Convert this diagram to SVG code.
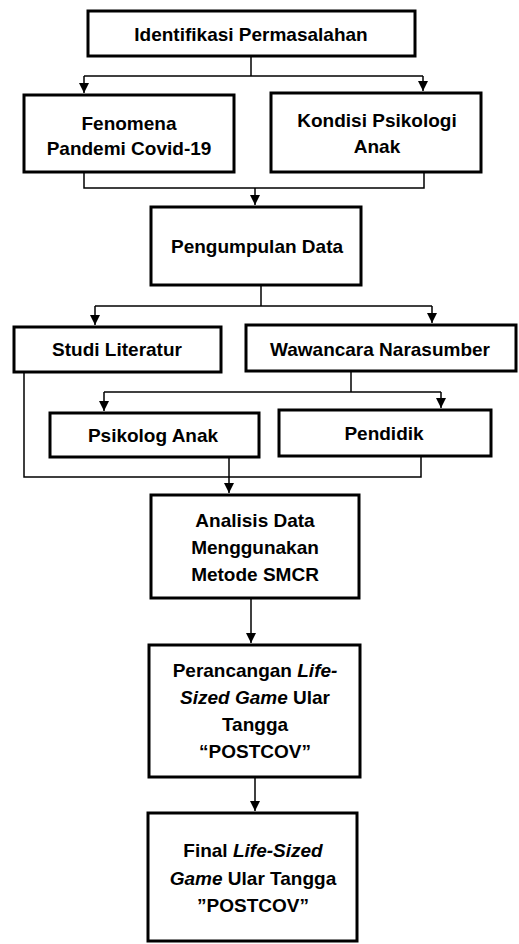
<svg xmlns="http://www.w3.org/2000/svg" width="519" height="944" viewBox="0 0 519 944">
<style>
.box{fill:#fff;stroke:#000;stroke-width:3}
.c{fill:none;stroke:#000;stroke-width:1.5}
text{font-family:"Liberation Sans",Arial,sans-serif;font-weight:bold;font-size:19px;fill:#000;text-anchor:middle}
.i{font-style:italic}
</style>
<defs>
<marker id="ah" markerUnits="userSpaceOnUse" markerWidth="10" markerHeight="10" viewBox="0 0 10 10" refX="10" refY="5" orient="auto">
<path d="M0,0 L10,5 L0,10 Z" fill="#000"/>
</marker>
</defs>
<rect width="519" height="944" fill="#fff"/>
<g id="connectors">
<polyline class="c" points="251,57 251,76"/>
<polyline class="c" points="84,76 423,76"/>
<line class="c" x1="84" y1="76" x2="84" y2="93" marker-end="url(#ah)"/>
<line class="c" x1="423" y1="76" x2="423" y2="91" marker-end="url(#ah)"/>
<polyline class="c" points="84,173 84,188 424,188 424,173"/>
<line class="c" x1="255" y1="188" x2="255" y2="205" marker-end="url(#ah)"/>
<polyline class="c" points="261,286 261,306"/>
<polyline class="c" points="95,306 432,306"/>
<line class="c" x1="95" y1="306" x2="95" y2="325" marker-end="url(#ah)"/>
<line class="c" x1="432" y1="306" x2="432" y2="323" marker-end="url(#ah)"/>
<polyline class="c" points="351,372 351,392"/>
<polyline class="c" points="104,392 441,392"/>
<line class="c" x1="104" y1="392" x2="104" y2="411" marker-end="url(#ah)"/>
<line class="c" x1="441" y1="392" x2="441" y2="408" marker-end="url(#ah)"/>
<polyline class="c" points="24,373 24,477 421,477 421,457"/>
<line class="c" x1="229" y1="458" x2="229" y2="493" marker-end="url(#ah)"/>
<line class="c" x1="251" y1="599" x2="251" y2="643" marker-end="url(#ah)"/>
<line class="c" x1="255" y1="778" x2="255" y2="811" marker-end="url(#ah)"/>
</g>
<g id="identifikasi">
<rect class="box" x="88" y="11" width="327" height="45"/>
<text x="251" y="41">Identifikasi Permasalahan</text>
</g>
<g id="fenomena">
<rect class="box" x="24" y="95" width="210" height="77"/>
<text x="129" y="130">Fenomena</text>
<text x="129" y="155">Pandemi Covid-19</text>
</g>
<g id="kondisi">
<rect class="box" x="271" y="93" width="210" height="79"/>
<text x="377" y="127">Kondisi Psikologi</text>
<text x="377" y="153">Anak</text>
</g>
<g id="pengumpulan">
<rect class="box" x="151" y="207" width="210" height="78"/>
<text x="257" y="253">Pengumpulan Data</text>
</g>
<g id="studi">
<rect class="box" x="14" y="327" width="207" height="45"/>
<text x="117" y="356">Studi Literatur</text>
</g>
<g id="wawancara">
<rect class="box" x="246" y="325" width="270" height="46"/>
<text x="380" y="356">Wawancara Narasumber</text>
</g>
<g id="psikolog">
<rect class="box" x="50" y="413" width="209" height="44"/>
<text x="153" y="442">Psikolog Anak</text>
</g>
<g id="pendidik">
<rect class="box" x="279" y="410" width="212" height="46"/>
<text x="384" y="440">Pendidik</text>
</g>
<g id="analisis">
<rect class="box" x="151" y="495" width="208" height="103"/>
<text x="255" y="527">Analisis Data</text>
<text x="255" y="554">Menggunakan</text>
<text x="255" y="581">Metode SMCR</text>
</g>
<g id="perancangan">
<rect class="box" x="149" y="645" width="211" height="132"/>
<text x="255" y="677">Perancangan <tspan class="i">Life-</tspan></text>
<text x="255" y="704"><tspan class="i">Sized Game</tspan> Ular</text>
<text x="255" y="731">Tangga</text>
<text x="255" y="758">“POSTCOV”</text>
</g>
<g id="final">
<rect class="box" x="148" y="813" width="209" height="128"/>
<text x="253" y="857">Final <tspan class="i">Life-Sized</tspan></text>
<text x="253" y="885"><tspan class="i">Game</tspan> Ular Tangga</text>
<text x="253" y="912">”POSTCOV”</text>
</g>
</svg>
